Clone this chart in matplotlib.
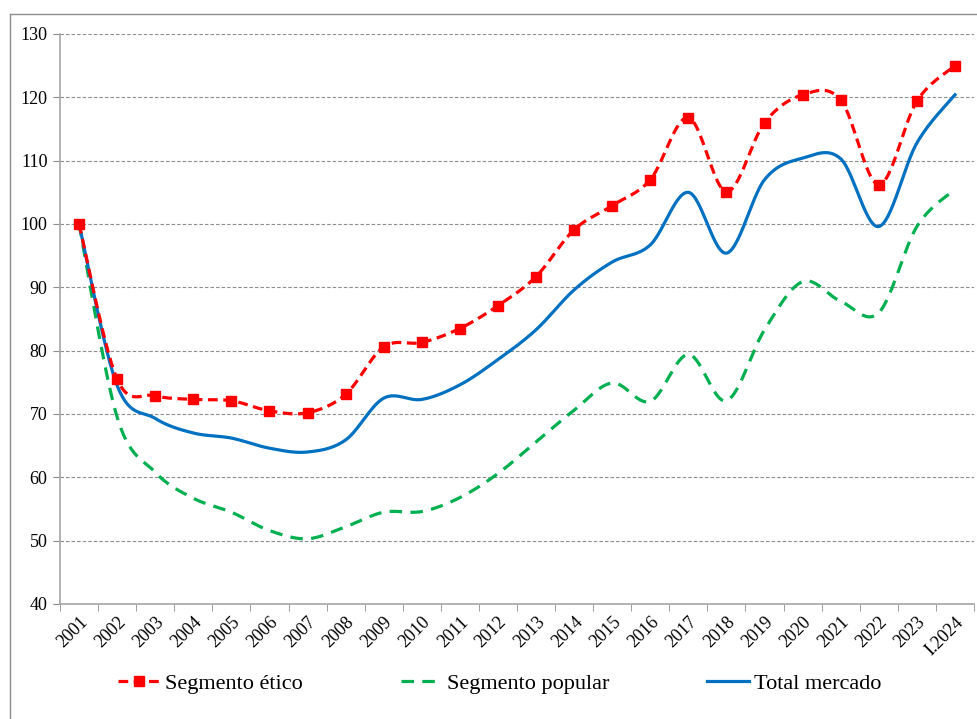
import numpy as np
import matplotlib
matplotlib.use("Agg")
import matplotlib.pyplot as plt
from matplotlib.lines import Line2D

plt.rcParams['font.family'] = ['Liberation Serif', 'DejaVu Serif']
plt.rcParams['lines.scale_dashes'] = False

years = ["2001", "2002", "2003", "2004", "2005", "2006", "2007", "2008", "2009", "2010",
         "2011", "2012", "2013", "2014", "2015", "2016", "2017", "2018", "2019", "2020",
         "2021", "2022", "2023", "I.2024"]
etico = [100, 75.5, 72.9, 72.3, 72.1, 70.5, 70.2, 73.1, 80.6, 81.3,
         83.5, 87.1, 91.7, 99.1, 102.9, 107.0, 116.8, 105.1, 116.0, 120.4,
         119.6, 106.2, 119.4, 125.0]
popular = [100, 69.5, 60.8, 56.7, 54.5, 51.6, 50.3, 52.2, 54.5, 54.6,
           56.8, 60.6, 65.6, 70.6, 74.9, 72.0, 79.4, 72.1, 83.3, 90.9,
           87.8, 86.0, 99.6, 105.5]
total = [100, 74.5, 69.3, 67.0, 66.2, 64.6, 64.0, 65.9, 72.5, 72.3,
         74.6, 78.6, 83.3, 89.6, 94.0, 96.7, 105.0, 95.4, 107.0, 110.4,
         110.3, 99.6, 112.8, 120.4]


def smooth(x, y, n=30):
    """Excel-like smoothed curve (Catmull-Rom Bezier) through the data points."""
    x = np.asarray(x, float)
    y = np.asarray(y, float)
    px = np.concatenate([[x[0]], x, [x[-1]]])
    py = np.concatenate([[y[0]], y, [y[-1]]])
    xs, ys = [], []
    t = np.linspace(0, 1, n)
    for i in range(1, len(px) - 2):
        p0 = np.array([px[i - 1], py[i - 1]])
        p1 = np.array([px[i], py[i]])
        p2 = np.array([px[i + 1], py[i + 1]])
        p3 = np.array([px[i + 2], py[i + 2]])
        c1 = p1 + (p2 - p0) / 6.0
        c2 = p2 - (p3 - p1) / 6.0
        b = ((1 - t) ** 3)[:, None] * p1 + (3 * (1 - t) ** 2 * t)[:, None] * c1 + \
            (3 * (1 - t) * t ** 2)[:, None] * c2 + (t ** 3)[:, None] * p2
        xs.extend(b[:, 0])
        ys.extend(b[:, 1])
    return np.array(xs), np.array(ys)


W, H = 977, 719
fig = plt.figure(figsize=(W / 100, H / 100), dpi=100)
ax = fig.add_axes([60 / W, 1 - 604 / H, 914 / W, 570 / H])

red = '#FF0000'
green = '#00B050'
blue = '#0070C0'

x = np.arange(len(years))

xs, ys = smooth(x, popular)
ax.plot(xs, ys, color=green, lw=2.3, linestyle=(0, (9, 6)), zorder=3)
xs, ys = smooth(x, total)
ax.plot(xs, ys, color=blue, lw=2.3, zorder=4)
xs, ys = smooth(x, etico)
ax.plot(xs, ys, color=red, lw=2.3, linestyle=(0, (7, 4)), zorder=5)
ax.plot(x, etico, linestyle='none', marker='s', color=red, markersize=6.5, zorder=6)

ax.set_xlim(-0.5, len(years) - 0.5)
ax.set_ylim(40, 130)
ax.set_yticks(np.arange(40, 131, 10))
ax.yaxis.grid(True, color='#8c8c8c', linestyle=(0, (2.5, 1.5)), linewidth=0.8)
ax.set_axisbelow(True)

ax.set_xticks(x)
ax.set_xticklabels(years, rotation=45, ha='right', va='top', rotation_mode='anchor')
ax.set_xticks(np.arange(-0.5, len(years)), minor=True)
ax.tick_params(axis='x', which='major', length=0, pad=7, labelsize=13)
ax.tick_params(axis='x', which='minor', length=5, color='#8c8c8c', direction='out')
ax.tick_params(axis='y', length=5, color='#8c8c8c', direction='out', pad=4, labelsize=13)

for s in ['top', 'right']:
    ax.spines[s].set_visible(False)
for s in ['left', 'bottom']:
    ax.spines[s].set_color('#a6a6a6')
    ax.spines[s].set_linewidth(1.2)

handles = [
    Line2D([], [], color=red, lw=2.3, linestyle=(0, (7, 4)), marker='s', markersize=6.5),
    Line2D([], [], color=green, lw=2.3, linestyle=(0, (9, 6))),
    Line2D([], [], color=blue, lw=2.3),
]
labels = ["Segmento ético", "Segmento popular", "Total mercado"]
fig.legend(handles, labels, loc='center', bbox_to_anchor=(500 / W, 1 - 684 / H),
           ncol=3, frameon=False, fontsize=16, handlelength=1.85, handletextpad=0.25,
           columnspacing=4.4, numpoints=1)

# outer chart border (left and top edges visible in the crop)
fig.add_artist(Line2D([10 / W, 10 / W], [0, 1 - 14 / H], transform=fig.transFigure,
                      color='#8c8c8c', lw=1.0))
fig.add_artist(Line2D([10 / W, 1], [1 - 14 / H, 1 - 14 / H], transform=fig.transFigure,
                      color='#8c8c8c', lw=1.0))

fig.savefig('out.png', dpi=100)
